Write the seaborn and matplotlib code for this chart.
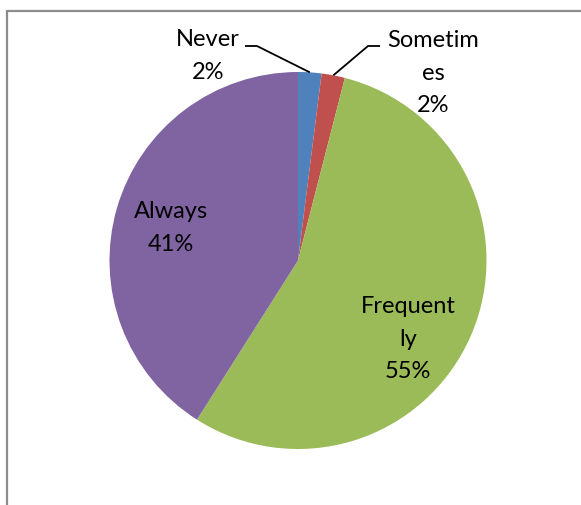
import numpy as np
import matplotlib
matplotlib.use("Agg")
import matplotlib.pyplot as plt
import matplotlib.patches as mpatches
import seaborn as sns

# Survey response shares (percent)
categories = ["Never", "Sometimes", "Frequently", "Always"]
shares = [2, 2, 55, 41]
# Category names as they wrap inside their label boxes
label_names = ["Never", "Sometim\nes", "Frequent\nly", "Always"]
colors = ["#4F81BD", "#C0504D", "#9BBB59", "#8064A2"]

sns.set_theme(style="white")
plt.rcParams["font.family"] = ["Lato", "DejaVu Sans"]

W, H = 581, 505
fig = plt.figure(figsize=(W / 100, H / 100), dpi=100)
ax = fig.add_axes([0, 0, 1, 1])

cx, cy, r = 298, H - 260.5, 188.5
palette = sns.color_palette(colors)
wedges, _ = ax.pie(shares, colors=palette, startangle=90, counterclock=False,
                   center=(cx, cy), radius=r, frame=True,
                   wedgeprops=dict(linewidth=0))
ax.set_xlim(0, W)
ax.set_ylim(0, H)
ax.set_aspect("equal")
ax.axis("off")

# Label anchor positions (centre of each text block)
label_pos = [(208, H - 56), (433, H - 73), (408, H - 339), (171, H - 228)]
fs = 17
for name, val, (lx, ly) in zip(label_names, shares, label_pos):
    ax.text(lx, ly, f"{name}\n{val}%", ha="center", va="center",
            fontsize=fs, color="black", linespacing=1.68)

# Leader lines for the two thin slices
elbows = {0: [(245, H - 46), (257, H - 46)], 1: [(380, H - 46), (368, H - 46)]}
for i, pts in elbows.items():
    w = wedges[i]
    mid = np.deg2rad((w.theta1 + w.theta2) / 2)
    ex, ey = cx + r * np.cos(mid), cy + r * np.sin(mid)
    xs = [p[0] for p in pts] + [ex]
    ys = [p[1] for p in pts] + [ey]
    ax.plot(xs, ys, color="black", linewidth=1.3, solid_capstyle="butt")

# Chart-area border
fig.add_artist(mpatches.Rectangle((6.5 / W, -0.2), 1.5, (H - 11) / H + 0.2,
                                  transform=fig.transFigure, fill=False,
                                  edgecolor="#8C8C8C", linewidth=1.6))

fig.savefig("out.png", dpi=100)
